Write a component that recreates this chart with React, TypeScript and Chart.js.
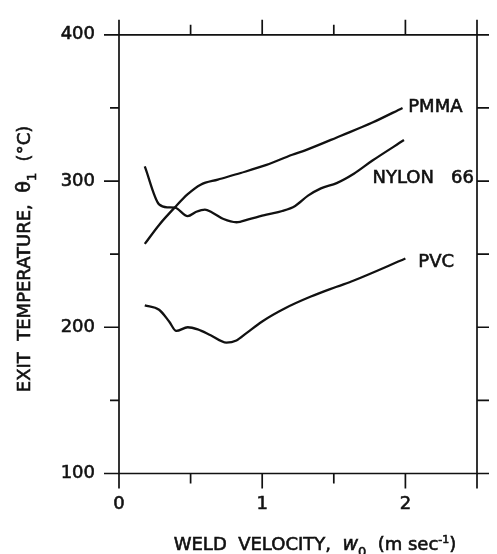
import React, { useEffect, useRef } from "react";
import { Chart, registerables } from "chart.js";

Chart.register(...registerables);

// ---- Data ----
const pmmaX = [0.18, 0.28, 0.39, 0.48, 0.57, 0.69, 0.85, 1.03, 1.21, 1.3, 1.55, 1.77, 1.98];
const pmmaY = [257, 270, 282, 291, 297.5, 301, 305.5, 311, 318, 321, 331, 340, 350];

const nylonX = [0.18, 0.28, 0.34, 0.39, 0.48, 0.54, 0.6, 0.65, 0.73, 0.82, 0.91, 1.03, 1.14, 1.23, 1.32, 1.41, 1.52, 1.64, 1.77, 1.99];
const nylonY = [310, 284, 282, 281.8, 276, 279, 280.5, 278.5, 274, 271.8, 274, 277, 279.5, 283, 290, 295, 298.6, 305, 314, 328];

const pvcX = [0.18, 0.28, 0.35, 0.4, 0.48, 0.55, 0.64, 0.75, 0.82, 0.89, 1.0, 1.16, 1.34, 1.52, 1.64, 2.0];
const pvcY = [215, 212, 204, 197.5, 200, 198.5, 194.5, 189.5, 191, 196, 204, 213, 221, 227.7, 232, 247];

const seriesNames = ["PMMA", "NYLON   66", "PVC"];
const seriesLabelX = [2.02, 1.77, 2.09];
const seriesLabelY = [350.7, 302, 244.3];

const xMin = 0;
const xMax = 2.5;
const xStep = 0.5;
const yMin = 100;
const yMax = 400;
const yStep = 50;

const FONT = "'DejaVu Sans', 'Liberation Sans', Arial, sans-serif";
const INK = "#111";
const TEXT_STROKE = 0.6;

function toPoints(xs: number[], ys: number[]) {
  return xs.map((x, i) => ({ x, y: ys[i] }));
}

type Piece = { t: string; size: number; italic?: boolean; dy?: number };

function fontOf(p: Piece) {
  return `${p.italic ? "italic " : ""}${p.size}px ${FONT}`;
}

function heavyText(ctx: CanvasRenderingContext2D, t: string, x: number, y: number) {
  ctx.fillText(t, x, y);
  ctx.lineWidth = TEXT_STROKE;
  ctx.strokeText(t, x, y);
}

function drawRich(ctx: CanvasRenderingContext2D, pieces: Piece[], cx: number, baseY: number) {
  const widths = pieces.map((p) => {
    ctx.font = fontOf(p);
    return ctx.measureText(p.t).width;
  });
  const total = widths.reduce((a, b) => a + b, 0);
  let x = cx - total / 2;
  pieces.forEach((p, i) => {
    ctx.font = fontOf(p);
    heavyText(ctx, p.t, x, baseY + (p.dy || 0));
    x += widths[i];
  });
}

const framePlugin = {
  id: "frame",
  afterDraw(chart: any) {
    const ctx: CanvasRenderingContext2D = chart.ctx;
    const xs = chart.scales.x;
    const ys = chart.scales.y;
    const { left, right, top, bottom } = chart.chartArea;
    ctx.save();
    ctx.strokeStyle = INK;
    ctx.fillStyle = INK;
    ctx.lineWidth = 1.7;
    ctx.lineCap = "butt";

    // frame
    ctx.beginPath();
    ctx.rect(left, top, right - left, bottom - top);
    ctx.stroke();

    // x ticks (top & bottom, outward)
    xs.ticks.forEach((t: any) => {
      const px = xs.getPixelForValue(t.value);
      const major = Math.abs(t.value - Math.round(t.value)) < 1e-6 || Math.abs(t.value - xMax) < 1e-6;
      const len = major ? 15 : 10;
      ctx.beginPath();
      ctx.moveTo(px, bottom);
      ctx.lineTo(px, bottom + len);
      ctx.moveTo(px, top);
      ctx.lineTo(px, top - len);
      ctx.stroke();
    });
    // y ticks (left & right, outward)
    ys.ticks.forEach((t: any) => {
      const py = ys.getPixelForValue(t.value);
      const major = t.value % 100 === 0;
      const len = major ? 15 : 9;
      ctx.beginPath();
      ctx.moveTo(left, py);
      ctx.lineTo(left - len, py);
      ctx.moveTo(right, py);
      ctx.lineTo(right + 12, py);
      ctx.stroke();
    });

    // series labels
    ctx.font = `18px ${FONT}`;
    ctx.textAlign = "left";
    ctx.textBaseline = "middle";
    seriesNames.forEach((name, i) => {
      heavyText(ctx, name, xs.getPixelForValue(seriesLabelX[i]), ys.getPixelForValue(seriesLabelY[i]));
    });

    // x title
    ctx.textBaseline = "alphabetic";
    ctx.textAlign = "left";
    drawRich(
      ctx,
      [
        { t: "WELD  VELOCITY,  ", size: 18 },
        { t: "w", size: 19, italic: true },
        { t: "0", size: 13, dy: 6 },
        { t: "  (m sec", size: 18 },
        { t: "-1", size: 11, dy: -7 },
        { t: ")", size: 18 },
      ],
      315,
      550
    );

    // y title
    ctx.save();
    ctx.translate(30, 259);
    ctx.rotate(-Math.PI / 2);
    drawRich(
      ctx,
      [
        { t: "EXIT  TEMPERATURE,  ", size: 18 },
        { t: "θ", size: 19 },
        { t: "1", size: 13, dy: 6 },
        { t: "  (°C)", size: 18 },
      ],
      0,
      0
    );
    ctx.restore();

    ctx.restore();
  },
};

export default function App() {
  const ref = useRef<HTMLCanvasElement | null>(null);

  useEffect(() => {
    if (!ref.current) return;
    const lineStyle = {
      borderColor: INK,
      borderWidth: 2.3,
      pointRadius: 0,
      fill: false,
      cubicInterpolationMode: "monotone" as const,
    };
    const tickFont = { family: FONT, size: 18 };
    const chart = new Chart(ref.current, {
      type: "line",
      data: {
        datasets: [
          { label: seriesNames[0], data: toPoints(pmmaX, pmmaY), ...lineStyle },
          { label: seriesNames[1], data: toPoints(nylonX, nylonY), ...lineStyle },
          { label: seriesNames[2], data: toPoints(pvcX, pvcY), ...lineStyle },
        ],
      },
      options: {
        animation: false,
        responsive: false,
        layout: { padding: { top: 30, right: 10, left: 0, bottom: 0 } },
        plugins: { legend: { display: false }, tooltip: { enabled: false } },
        scales: {
          x: {
            type: "linear",
            min: xMin,
            max: xMax,
            grid: { display: false, drawTicks: false },
            border: { display: false },
            ticks: {
              stepSize: xStep,
              padding: 20,
              color: INK,
              textStrokeColor: INK,
              textStrokeWidth: TEXT_STROKE,
              font: tickFont,
              maxRotation: 0,
              autoSkip: false,
              callback: (v: any) => (Math.abs(v - Math.round(v)) < 1e-6 && v < xMax ? String(Math.round(v)) : ""),
            },
            afterFit: (s: any) => {
              s.height = 80.5;
            },
          },
          y: {
            type: "linear",
            min: yMin,
            max: yMax,
            grid: { display: false, drawTicks: false },
            border: { display: false },
            ticks: {
              stepSize: yStep,
              padding: 24,
              color: INK,
              textStrokeColor: INK,
              textStrokeWidth: TEXT_STROKE,
              font: tickFont,
              autoSkip: false,
              callback: (v: any) => (v % 100 === 0 ? String(v) : ""),
            },
            afterFit: (s: any) => {
              s.width = 119;
            },
          },
        },
      },
      plugins: [framePlugin],
    });
    return () => chart.destroy();
  }, []);

  return (
    <div style={{ position: "fixed", left: 0, top: 0, width: 497, height: 554, background: "#fff" }}>
      <canvas ref={ref} width={497} height={554} style={{ display: "block" }} />
    </div>
  );
}
